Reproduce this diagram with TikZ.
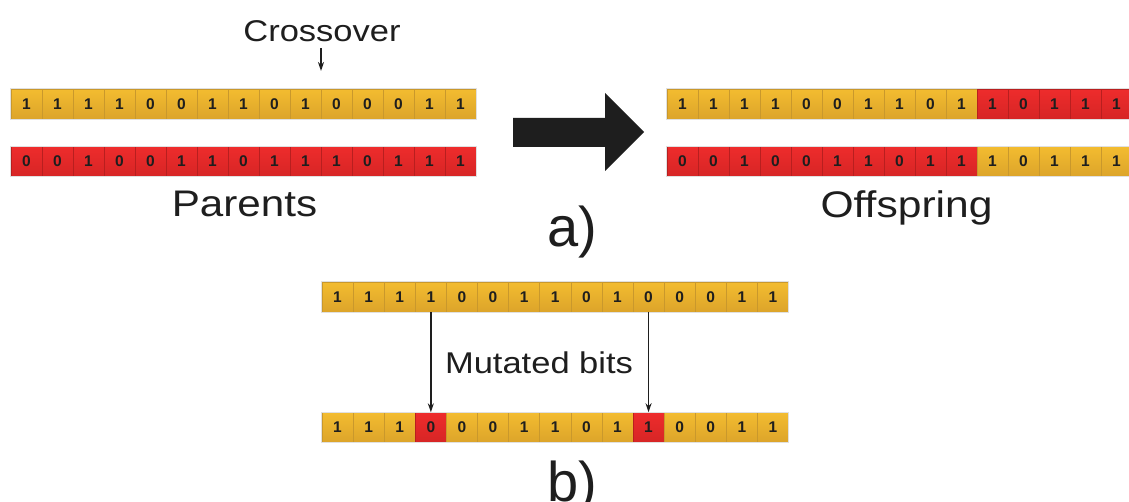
\documentclass[tikz,border=0pt]{standalone}
\usepackage{fontspec}
\setmainfont{Liberation Sans}[BoldFont=Liberation Sans Bold]
\usetikzlibrary{arrows.meta}
\definecolor{topY}{HTML}{F3BC30}
\definecolor{botY}{HTML}{DCA42A}
\definecolor{lineY}{HTML}{C9982C}
\definecolor{topR}{HTML}{EE2C2C}
\definecolor{botR}{HTML}{D62525}
\definecolor{lineR}{HTML}{B81F1F}
\definecolor{ink}{HTML}{1E1E1E}
\tikzset{
  cell/.style={minimum height=30pt, inner sep=0pt, line width=0.5pt,
    font=\fontsize{15.5}{15.5}\selectfont\bfseries, text=ink},
  rowedge/.style={draw=black!12, line width=0.6pt},
  label/.style={inner sep=0pt, anchor=base, text=ink},
  thinarrow/.style={-{Stealth[length=9pt,width=6pt]}, line width=1.5pt, draw=ink},
}
\newcommand\bitrow[5]{%
  \foreach \b/\c [count=\i] in {#5} {
    \node[cell, minimum width=#3pt, top color=top\c, bottom color=bot\c, draw=line\c]
      (#1-\i) at ({#2+(\i-0.5)*#3}, #4) {\b};
  }
  \draw[rowedge] (#1-1.north west) rectangle (#1-15.south east);
}
\begin{document}
\begin{tikzpicture}[x=1pt, y=-1pt]
\clip (0,0) rectangle (1129,502);
\fill[white] (0,0) rectangle (1129,502);

% a) crossover
\bitrow{P1}{11}{31}{104}{1/Y,1/Y,1/Y,1/Y,0/Y,0/Y,1/Y,1/Y,0/Y,1/Y,0/Y,0/Y,0/Y,1/Y,1/Y}
\bitrow{P2}{11}{31}{161.5}{0/R,0/R,1/R,0/R,0/R,1/R,1/R,0/R,1/R,1/R,1/R,0/R,1/R,1/R,1/R}
\bitrow{O1}{667}{31}{104}{1/Y,1/Y,1/Y,1/Y,0/Y,0/Y,1/Y,1/Y,0/Y,1/Y,1/R,0/R,1/R,1/R,1/R}
\bitrow{O2}{667}{31}{161.5}{0/R,0/R,1/R,0/R,0/R,1/R,1/R,0/R,1/R,1/R,1/Y,0/Y,1/Y,1/Y,1/Y}

\node[label, font=\fontsize{30}{30}\selectfont] (cross) at (322,41.7) {\scalebox{1.15}[1]{Crossover}};
\coordinate (cut) at (321,71);
\draw[thinarrow] ([yshift=-6pt]cross.south -| cut) -- (cut);

\node[label, font=\fontsize{37}{37}\selectfont] (parents) at (244.5,217) {\scalebox{1.14}[1]{Parents}};
\node[label, font=\fontsize{37}{37}\selectfont] (offspring) at (906.5,218) {\scalebox{1.15}[1]{Offspring}};
\node[label, font=\fontsize{56}{56}\selectfont] (la) at (572,247) {a)};

\fill[ink] (513,118) -- (605,118) -- (605,93) -- (644,132) -- (605,171) -- (605,147) -- (513,147) -- cycle;

% b) mutation
\bitrow{M1}{322}{31.1}{297}{1/Y,1/Y,1/Y,1/Y,0/Y,0/Y,1/Y,1/Y,0/Y,1/Y,0/Y,0/Y,0/Y,1/Y,1/Y}
\bitrow{M2}{322}{31.1}{427.5}{1/Y,1/Y,1/Y,0/R,0/Y,0/Y,1/Y,1/Y,0/Y,1/Y,1/R,0/Y,0/Y,1/Y,1/Y}
\draw[thinarrow] (M1-4.south) -- (M2-4.north);
\draw[thinarrow] (M1-11.south) -- (M2-11.north);
\node[label, font=\fontsize{30}{30}\selectfont] (mut) at (539,373) {\scalebox{1.15}[1]{Mutated bits}};
\node[label, font=\fontsize{56}{56}\selectfont] (lb) at (572,501) {b)};
\end{tikzpicture}
\end{document}
